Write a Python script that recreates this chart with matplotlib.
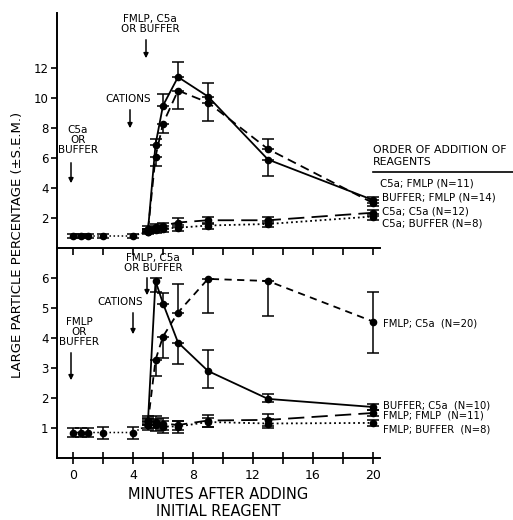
import numpy as np
import matplotlib
matplotlib.use('Agg')
import matplotlib.pyplot as plt
from matplotlib import rcParams

rcParams['font.family'] = ['DejaVu Sans']

# 時間（分）
t_base = [0, 0.5, 1, 2, 4]
t_resp = [5, 5.5, 6, 7, 9, 13, 20]

# 上段: C5a を先に加えた場合 / 緩衝液
top_base = [0.8, 0.8, 0.8, 0.8, 0.8]
top_base_err = [0.15, 0.15, 0.15, 0.15, 0.15]

top_c5a_fmlp = [1.2, 6.9, 9.5, 11.4, 10.1, 5.9, 3.2]
top_c5a_fmlp_lo = [0.1, 0.0, 0.0, 0.0, 0.0, 1.1, 0.2]
top_c5a_fmlp_hi = [0.1, 0.4, 0.8, 1.0, 0.9, 0.0, 0.2]

top_buf_fmlp = [1.2, 6.1, 8.3, 10.5, 9.7, 6.6, 3.0]
top_buf_fmlp_lo = [0.1, 0.6, 0.6, 1.2, 1.2, 0.0, 0.2]
top_buf_fmlp_hi = [0.1, 0.0, 0.0, 0.0, 0.0, 0.7, 0.2]

top_c5a_c5a = [1.3, 1.4, 1.5, 1.7, 1.85, 1.85, 2.35]
top_c5a_c5a_err = [0.15, 0.2, 0.2, 0.3, 0.25, 0.2, 0.2]

top_c5a_buf = [1.1, 1.2, 1.3, 1.35, 1.5, 1.6, 2.1]
top_c5a_buf_err = [0.15, 0.2, 0.2, 0.2, 0.2, 0.2, 0.2]

top_labels = ['C5a; FMLP (N=11)', 'BUFFER; FMLP (N=14)',
              'C5a; C5a (N=12)', 'C5a; BUFFER (N=8)']

# 下段: FMLP を先に加えた場合 / 緩衝液
bot_base = [0.85, 0.85, 0.85, 0.85, 0.85]
bot_base_err = [0.15, 0.15, 0.15, 0.2, 0.2]

bot_fmlp_c5a = [1.2, 3.27, 4.05, 4.85, 5.97, 5.9, 4.55]
bot_fmlp_c5a_lo = [0.1, 0.55, 0.7, 0.0, 1.15, 1.15, 1.05]
bot_fmlp_c5a_hi = [0.1, 0.0, 0.0, 0.95, 0.0, 0.0, 1.0]

bot_buf_c5a = [1.25, 5.9, 5.15, 3.85, 2.9, 1.97, 1.7]
bot_buf_c5a_lo = [0.1, 0.35, 0.0, 0.7, 0.55, 0.1, 0.1]
bot_buf_c5a_hi = [0.1, 0.1, 0.35, 0.0, 0.7, 0.15, 0.1]

bot_fmlp_fmlp = [1.25, 1.2, 1.15, 1.1, 1.25, 1.27, 1.5]
bot_fmlp_fmlp_err = [0.15, 0.2, 0.2, 0.15, 0.2, 0.2, 0.1]

bot_fmlp_buf = [1.1, 1.1, 1.05, 1.05, 1.2, 1.15, 1.17]
bot_fmlp_buf_err = [0.15, 0.2, 0.2, 0.2, 0.15, 0.15, 0.1]

bot_labels = ['FMLP; C5a  (N=20)', 'BUFFER; C5a  (N=10)',
              'FMLP; FMLP  (N=11)', 'FMLP; BUFFER  (N=8)']

x_ticks = [0, 4, 8, 12, 16, 20]

W, H = 513, 520


def fx(px):
    return px / W


def fy(py):
    return 1 - py / H


def series(ax, x, y, lo, hi, ls, dashes=None):
    eb = ax.errorbar(x, y, yerr=[lo, hi], fmt='o', color='k', ms=4.5,
                     lw=1.3, elinewidth=1.1, capsize=4, capthick=1.1,
                     linestyle=ls, zorder=3)
    if dashes is not None:
        eb[0].set_dashes(dashes)
    return eb


fig = plt.figure(figsize=(W / 100, H / 100), dpi=100)
ax1 = fig.add_axes([fx(57), fy(248), fx(380) - fx(57), fy(13) - fy(248)])
ax2 = fig.add_axes([fx(57), fy(458), fx(380) - fx(57), fy(248) - fy(458)])

xlim = (-1.07, 20.47)

# ---- 上段 ----
ax1.errorbar(t_base + [5], top_base + [1.1], yerr=top_base_err + [0.1],
             fmt='o', color='k', ms=4.5, lw=1.1, linestyle=':',
             elinewidth=1.1, capsize=4, capthick=1.1)
series(ax1, t_resp, top_c5a_fmlp, top_c5a_fmlp_lo, top_c5a_fmlp_hi, '-')
series(ax1, t_resp, top_buf_fmlp, top_buf_fmlp_lo, top_buf_fmlp_hi, '--', (5, 3))
series(ax1, t_resp, top_c5a_c5a, top_c5a_c5a_err, top_c5a_c5a_err, '--', (9, 4))
series(ax1, t_resp, top_c5a_buf, top_c5a_buf_err, top_c5a_buf_err, ':')

ax1.set_xlim(xlim)
ax1.set_ylim(0, 15.67)
ax1.set_yticks([2, 4, 6, 8, 10, 12])
ax1.set_xticks(np.arange(0, 21, 2))
ax1.tick_params(axis='x', direction='out', length=5, width=1.2, labelbottom=False)
ax1.tick_params(axis='y', direction='out', length=4, width=1.2, labelsize=8.5, pad=2)

# ---- 下段 ----
ax2.errorbar(t_base + [5], bot_base + [1.1], yerr=bot_base_err + [0.1],
             fmt='o', color='k', ms=4.5, lw=1.1, linestyle=':',
             elinewidth=1.1, capsize=4, capthick=1.1)
series(ax2, t_resp, bot_fmlp_c5a, bot_fmlp_c5a_lo, bot_fmlp_c5a_hi, '--', (4, 3))
series(ax2, t_resp, bot_buf_c5a, bot_buf_c5a_lo, bot_buf_c5a_hi, '-')
series(ax2, t_resp, bot_fmlp_fmlp, bot_fmlp_fmlp_err, bot_fmlp_fmlp_err, '--', (9, 4))
series(ax2, t_resp, bot_fmlp_buf, bot_fmlp_buf_err, bot_fmlp_buf_err, ':')

ax2.set_xlim(xlim)
ax2.set_ylim(0, 7)
ax2.set_yticks([1, 2, 3, 4, 5, 6])
ax2.set_xticks(np.arange(0, 21, 2), minor=True)
ax2.set_xticks(x_ticks)
ax2.tick_params(axis='x', which='both', direction='inout', length=8, width=1.2,
                labelsize=9, pad=4)
ax2.tick_params(axis='y', direction='out', length=4, width=1.2, labelsize=8.5, pad=2)

for ax in (ax1, ax2):
    ax.spines['top'].set_visible(False)
    ax.spines['right'].set_visible(False)
    ax.spines['left'].set_linewidth(1.4)
    ax.spines['bottom'].set_linewidth(1.4)
    ax.patch.set_alpha(0)

# 注釈テキストと矢印
fs = 7.5
ann = dict(ha='center', va='center', fontsize=fs, linespacing=0.95)
arrow = dict(arrowstyle='-|>', color='k', lw=1.1, mutation_scale=7)

fig.text(fx(150), fy(24), 'FMLP, C5a\nOR BUFFER', **ann)
fig.text(fx(128), fy(99), 'CATIONS', **ann)
fig.text(fx(78), fy(140), 'C5a\nOR\nBUFFER', **ann)
fig.text(fx(153), fy(263), 'FMLP, C5a\nOR BUFFER', **ann)
fig.text(fx(120), fy(302), 'CATIONS', **ann)
fig.text(fx(79), fy(332), 'FMLP\nOR\nBUFFER', **ann)

for x0, y0, y1 in [(146, 37, 61), (130, 107, 131), (71, 160, 186),
                   (147, 275, 298), (133, 310, 337), (71, 350, 383)]:
    fig.add_artist(matplotlib.patches.FancyArrowPatch(
        (fx(x0), fy(y0)), (fx(x0), fy(y1)), transform=fig.transFigure, **arrow))

# 凡例（右側）
fig.text(fx(373), fy(156), 'ORDER OF ADDITION OF\nREAGENTS', ha='left', va='center',
         fontsize=7.8, linespacing=1.2)
fig.add_artist(plt.Line2D([fx(373), fx(513)], [fy(172), fy(172)], color='k', lw=1.2,
                          transform=fig.transFigure))
for lab, py, px in zip(top_labels, [183, 198, 211, 223], [380, 382, 382, 382]):
    fig.text(fx(px), fy(py), lab, ha='left', va='center', fontsize=7.4)
for lab, py in zip(bot_labels, [323, 405, 415, 430]):
    fig.text(fx(383), fy(py), lab, ha='left', va='center', fontsize=7.2)

fig.text(fx(18), fy(245), 'LARGE PARTICLE PERCENTAGE (\u00b1S.E.M.)', rotation=90,
         ha='center', va='center', fontsize=9.5)
fig.text(fx(218), fy(503), 'MINUTES AFTER ADDING\nINITIAL REAGENT', ha='center',
         va='center', fontsize=10.5, linespacing=1.2)

fig.savefig('out.png', dpi=100)
